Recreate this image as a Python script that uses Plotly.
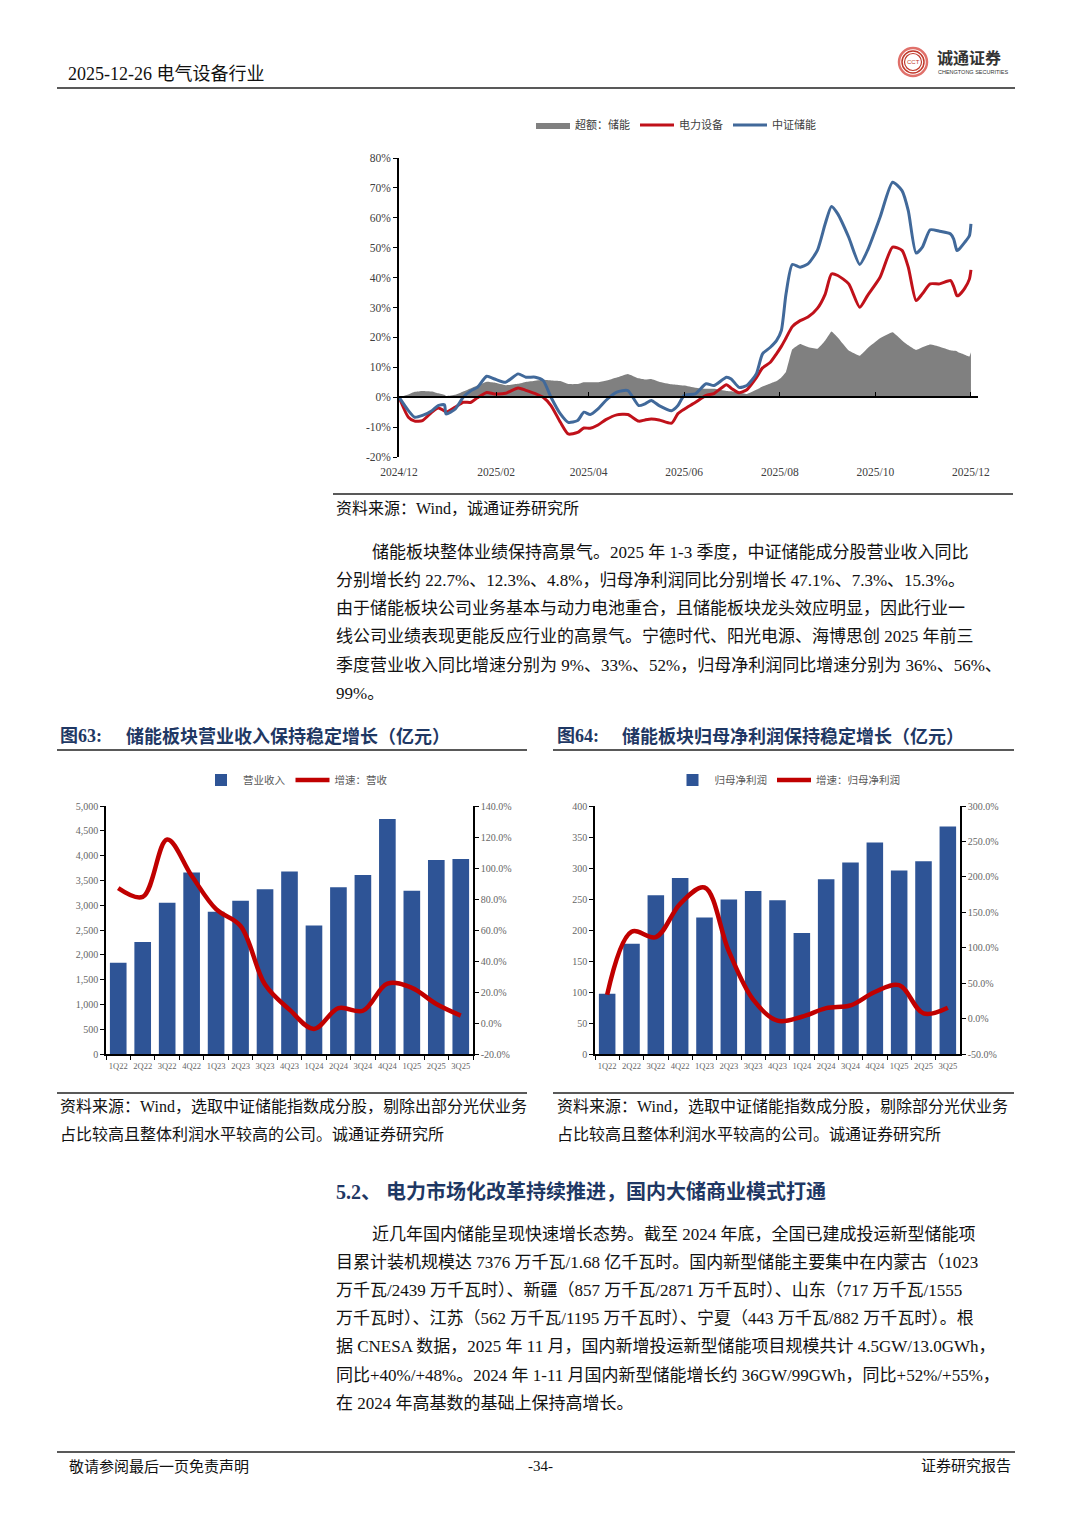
import plotly.graph_objects as go

W, H = 1080, 1527


def X(px):
    return px / W


def Y(py):
    return 1 - py / H


# ---------------- data: top chart (cumulative return, %) ----------------
DATES = ["2024-12-25", "2024-12-31", "2025-01-04", "2025-01-09", "2025-01-15", "2025-01-19", "2025-01-23",
         "2025-01-24", "2025-01-30", "2025-02-04", "2025-02-09", "2025-02-13", "2025-02-19", "2025-02-24",
         "2025-03-03", "2025-03-11", "2025-03-16", "2025-03-22", "2025-03-27", "2025-04-01", "2025-04-07",
         "2025-04-12", "2025-04-18", "2025-04-22", "2025-04-26", "2025-05-01", "2025-05-06", "2025-05-13",
         "2025-05-20", "2025-05-27", "2025-05-31", "2025-06-04", "2025-06-09", "2025-06-17", "2025-06-21",
         "2025-06-25", "2025-07-02", "2025-07-09", "2025-07-14", "2025-07-22", "2025-07-25", "2025-07-30",
         "2025-08-04", "2025-08-10", "2025-08-14", "2025-08-19", "2025-08-23", "2025-08-26", "2025-08-29",
         "2025-09-02", "2025-09-07", "2025-09-12", "2025-09-18", "2025-09-23", "2025-09-27", "2025-10-01",
         "2025-10-08", "2025-10-15", "2025-10-20", "2025-10-28", "2025-11-05", "2025-11-11", "2025-11-15",
         "2025-11-20", "2025-11-24", "2025-11-29", "2025-12-05", "2025-12-12", "2025-12-14", "2025-12-16",
         "2025-12-17", "2025-12-21", "2025-12-24", "2025-12-25"]

EXCESS = [0, 0.9, 1.8, 2.1, 1.9, 1.3, 0.8, 0.4, 0.8, 1.9,
          3.0, 3.9, 5.2, 4.9, 4.0, 4.5, 5.1, 5.5, 5.8, 5.6,
          5.4, 4.4, 4.4, 5.0, 5.0, 5.0, 5.5, 6.6, 7.8, 6.3,
          5.9, 6.1, 5.2, 4.3, 4.1, 3.9, 3.2, 2.8, 2.8, 2.1,
          2.0, 1.6, 1.1, 2.5, 3.6, 4.6, 5.4, 6.6, 8.5, 16.0,
          17.8, 16.8, 16.2, 19.0, 22.0, 20.0, 15.6, 13.9, 16.4, 19.7,
          21.7, 19.0, 17.4, 15.8, 16.7, 17.6, 16.9, 15.7, 15.5, 15.4,
          15.0, 14.2, 13.6, 15.0]

POWER_EQUIP = [0, -6.7, -8.0, -7.8, -5.0, -3.6, -4.6, -5.0, -3.3, -1.7,
               -1.7, -0.2, 1.6, 1.1, 1.3, 3.1, 2.3, 1.2, 0, -2.8,
               -8.4, -12.3, -11.8, -10.3, -10.4, -9.3, -7.5, -5.9, -5.8, -8.0,
               -7.6, -7.3, -7.6, -8.7, -5.5, -4.0, -1.8, 0.6, 1.2, 4.2,
               3.0, 1.5, 2.5, 6.5, 9.8, 11.7, 14.6, 17.0, 19.8, 23.6,
               25.6, 26.8, 29.7, 34.5, 41.2, 40.7, 37.9, 30.1, 34.0, 40.1,
               50.2, 49.1, 43.5, 32.3, 34.6, 37.9, 37.9, 39.0, 37.0, 34.0,
               34.0, 36.4, 39.5, 42.6]

CSI_STORAGE = [0, -4.5, -6.7, -6.1, -4.5, -2.8, -2.5, -5.6, -3.9, 0,
               2.2, 3.3, 7.0, 6.1, 5.0, 7.8, 6.7, 6.7, 5.6, 0,
               -5.6, -8.4, -7.8, -5.0, -5.8, -3.9, -1.1, 1.7, 2.2, -2.8,
               -2.2, -1.1, -2.8, -4.5, -2.8, 0.6, 1.1, 4.5, 3.9, 6.7,
               6.1, 3.3, 3.9, 7.8, 14.5, 16.7, 19.0, 22.3, 34.6, 44.4,
               43.5, 44.6, 49.1, 58.0, 63.8, 61.3, 53.5, 44.4, 49.1, 60.2,
               71.9, 69.1, 62.4, 48.2, 50.2, 56.0, 55.5, 54.6, 52.9, 49.1,
               49.3, 51.8, 54.0, 58.0]

TOP_TICK_DATES = ["2024-12-25", "2025-02-25", "2025-04-25", "2025-06-25",
                  "2025-08-25", "2025-10-25", "2025-12-25"]
TOP_TICK_TEXT = ["2024/12", "2025/02", "2025/04", "2025/06", "2025/08", "2025/10", "2025/12"]
TOP_X_RANGE = ["2024-12-25", "2025-12-29 12:00"]
TOP_Y_TICKS = [-20, -10, 0, 10, 20, 30, 40, 50, 60, 70, 80]
TOP_Y_TEXT = ["-20%", "-10%", "0%", "10%", "20%", "30%", "40%", "50%", "60%", "70%", "80%"]

# ---------------- data: bar charts ----------------
QUARTERS = ["1Q22", "2Q22", "3Q22", "4Q22", "1Q23", "2Q23", "3Q23", "4Q23",
            "1Q24", "2Q24", "3Q24", "4Q24", "1Q25", "2Q25", "3Q25"]
REVENUE = [1840, 2260, 3050, 3660, 2870, 3090, 3320, 3680, 2590, 3360, 3610, 4740, 3290, 3910, 3930]
REVENUE_YOY = [87.0, 81.4, 118.4, 95.0, 73.4, 62.6, 24.8, 8.6, -3.8, 9.6, 7.9, 25.4, 22.7, 12.3, 4.8]
NET_PROFIT = [97, 178, 256, 284, 220, 249, 263, 248, 195, 282, 309, 341, 296, 311, 367]
NET_PROFIT_YOY = [33.6, 122.6, 115.0, 162.0, 185.0, 95.0, 26.7, -3.0, 2.5, 14.8, 18.6, 37.5, 47.1, 7.3, 15.3]

REV_YOY_TICKS = [-20, 0, 20, 40, 60, 80, 100, 120, 140]
REV_YOY_TEXT = ["-20.0%", "0.0%", "20.0%", "40.0%", "60.0%", "80.0%", "100.0%", "120.0%", "140.0%"]
NP_YOY_TICKS = [-50, 0, 50, 100, 150, 200, 250, 300]
NP_YOY_TEXT = ["-50.0%", "0.0%", "50.0%", "100.0%", "150.0%", "200.0%", "250.0%", "300.0%"]

# ---------------- styles ----------------
SERIF = "Liberation Serif, Noto Sans CJK SC, serif"
SANS = "Noto Sans CJK SC, Liberation Sans, sans-serif"
NAVY = "#1F3864"
BAR_BLUE = "#2E5496"
LINE_RED = "#C00000"
TOP_BLUE = "#41699A"
TOP_RED = "#C0111A"
GRAY = "#808080"

fig = go.Figure()

# ---- top chart ----
fig.add_trace(go.Scatter(x=DATES, y=EXCESS, name="超额：储能", mode="lines",
                         line=dict(width=0, color=GRAY, shape="spline", smoothing=0.3),
                         fill="tozeroy", fillcolor=GRAY, xaxis="x", yaxis="y", legend="legend"))
fig.add_trace(go.Scatter(x=DATES, y=POWER_EQUIP, name="电力设备", mode="lines",
                         line=dict(width=3, color=TOP_RED, shape="spline", smoothing=0.6),
                         xaxis="x", yaxis="y", legend="legend"))
fig.add_trace(go.Scatter(x=DATES, y=CSI_STORAGE, name="中证储能", mode="lines",
                         line=dict(width=3, color=TOP_BLUE, shape="spline", smoothing=0.6),
                         xaxis="x4", yaxis="y", legend="legend"))

# ---- chart 63 ----
fig.add_trace(go.Bar(x=QUARTERS, y=REVENUE, name="营业收入", marker_color=BAR_BLUE,
                     xaxis="x2", yaxis="y2", legend="legend2"))
fig.add_trace(go.Scatter(x=QUARTERS, y=REVENUE_YOY, name="增速：营收", mode="lines",
                         line=dict(width=4.5, color=LINE_RED, shape="spline", smoothing=1.0),
                         xaxis="x2", yaxis="y3", legend="legend2"))

# ---- chart 64 ----
fig.add_trace(go.Bar(x=QUARTERS, y=NET_PROFIT, name="归母净利润", marker_color=BAR_BLUE,
                     xaxis="x3", yaxis="y4", legend="legend3"))
fig.add_trace(go.Scatter(x=QUARTERS, y=NET_PROFIT_YOY, name="增速：归母净利润", mode="lines",
                         line=dict(width=4.5, color=LINE_RED, shape="spline", smoothing=1.0),
                         xaxis="x3", yaxis="y5", legend="legend3"))

top_dom_x = [X(399), X(978)]
top_dom_y = [Y(457), Y(158)]
zero_pos = top_dom_y[0] + 0.2 * (top_dom_y[1] - top_dom_y[0])
bar_dom_y = [Y(1054), Y(806)]

tick_font_top = dict(family=SERIF, size=11.5, color="#404040")
tick_font_bar = dict(family=SERIF, size=10, color="#666666")
tick_font_cat = dict(family=SERIF, size=8.5, color="#666666")

common_y = dict(showgrid=False, zeroline=False, showline=True, linecolor="black", linewidth=1.5,
                ticks="outside", ticklen=4, tickwidth=1.2, tickcolor="black", automargin=False)

fig.update_layout(
    template="none",
    width=W, height=H, autosize=False,
    margin=dict(l=0, r=0, t=0, b=0, pad=0, autoexpand=False),
    paper_bgcolor="white", plot_bgcolor="white",
    bargap=0.32,
    xaxis=dict(domain=top_dom_x, anchor="y", type="date", range=TOP_X_RANGE,
               tickvals=TOP_TICK_DATES, ticktext=TOP_TICK_TEXT, ticks="", showline=False,
               showgrid=False, zeroline=False, tickfont=tick_font_top, ticklabelstandoff=6,
               tickangle=0, automargin=False),
    xaxis4=dict(overlaying="x", anchor="free", position=zero_pos, type="date", range=TOP_X_RANGE,
                tickvals=TOP_TICK_DATES, showticklabels=False, ticks="inside", ticklen=4,
                tickcolor="black", tickwidth=1.2, showline=True, linecolor="black", linewidth=2,
                showgrid=False, zeroline=False, automargin=False),
    yaxis=dict(domain=top_dom_y, anchor="x", range=[-20, 80], tickvals=TOP_Y_TICKS, ticktext=TOP_Y_TEXT,
               tickfont=tick_font_top, **common_y),
    xaxis2=dict(domain=[X(106), X(473)], anchor="y2", type="category", showgrid=False,
                showline=True, linecolor="black", linewidth=1.5, ticks="outside", ticklen=4,
                tickson="boundaries", tickcolor="black", tickfont=tick_font_cat, tickangle=0,
                ticklabelstandoff=3, automargin=False),
    yaxis2=dict(domain=bar_dom_y, anchor="x2", range=[0, 5000], dtick=500, tickformat=",",
                tickfont=tick_font_bar, **common_y),
    yaxis3=dict(overlaying="y2", anchor="x2", side="right", range=[-20, 140],
                tickvals=REV_YOY_TICKS, ticktext=REV_YOY_TEXT, tickfont=tick_font_bar, **common_y),
    xaxis3=dict(domain=[X(595), X(960)], anchor="y4", type="category", showgrid=False,
                showline=True, linecolor="black", linewidth=1.5, ticks="outside", ticklen=4,
                tickson="boundaries", tickcolor="black", tickfont=tick_font_cat, tickangle=0,
                ticklabelstandoff=3, automargin=False),
    yaxis4=dict(domain=bar_dom_y, anchor="x3", range=[0, 400], dtick=50,
                tickfont=tick_font_bar, **common_y),
    yaxis5=dict(overlaying="y4", anchor="x3", side="right", range=[-50, 300],
                tickvals=NP_YOY_TICKS, ticktext=NP_YOY_TEXT, tickfont=tick_font_bar, **common_y),
    legend=dict(orientation="h", x=X(676), xanchor="center", y=Y(125), yanchor="middle",
                font=dict(family=SERIF, size=11, color="#404040"), itemwidth=34,
                bgcolor="rgba(0,0,0,0)", traceorder="normal"),
    legend2=dict(orientation="h", x=X(296), xanchor="center", y=Y(780), yanchor="middle",
                 font=dict(family=SANS, size=10.5, color="#595959"), itemwidth=34,
                 bgcolor="rgba(0,0,0,0)", traceorder="normal"),
    legend3=dict(orientation="h", x=X(788), xanchor="center", y=Y(780), yanchor="middle",
                 font=dict(family=SANS, size=10.5, color="#595959"), itemwidth=34,
                 bgcolor="rgba(0,0,0,0)", traceorder="normal"),
)

# ---------------- page text ----------------
annotations = []


def txt(px, py, s, size=17, color="#111111", bold=False, anchor="left", family=SERIF):
    annotations.append(dict(x=X(px), y=Y(py), xref="paper", yref="paper", text=(f"<b>{s}</b>" if bold else s),
                            showarrow=False, xanchor=anchor, yanchor="middle",
                            font=dict(family=family, size=size, color=color)))


# header
txt(66, 74, "2025-12-26 电气设备行业", size=18, color="#111111")
txt(935, 58, "诚通证券", size=16, color="#333333", bold=True)
txt(936, 72, "CHENGTONG SECURITIES", size=5.5, color="#333333", family="Liberation Sans")
txt(913, 62, "CCT", size=6, color="#C0392B", anchor="center", family="Liberation Sans")

# top chart source
txt(334, 509, "资料来源：Wind，诚通证券研究所", size=16)

P1 = [
    "储能板块整体业绩保持高景气。2025 年 1-3 季度，中证储能成分股营业收入同比",
    "分别增长约 22.7%、12.3%、4.8%，归母净利润同比分别增长 47.1%、7.3%、15.3%。",
    "由于储能板块公司业务基本与动力电池重合，且储能板块龙头效应明显，因此行业一",
    "线公司业绩表现更能反应行业的高景气。宁德时代、阳光电源、海博思创 2025 年前三",
    "季度营业收入同比增速分别为 9%、33%、52%，归母净利润同比增速分别为 36%、56%、",
    "99%。",
]
P1_Y = [552, 580, 608, 636, 665, 693]
for i, (line, yy) in enumerate(zip(P1, P1_Y)):
    txt(370 if i == 0 else 334, yy, line, size=17)

# chart titles
txt(58, 736, "图63:", size=18, color=NAVY, bold=True)
txt(124, 736, "储能板块营业收入保持稳定增长（亿元）", size=18, color=NAVY, bold=True)
txt(555, 736, "图64:", size=18, color=NAVY, bold=True)
txt(620, 736, "储能板块归母净利润保持稳定增长（亿元）", size=18, color=NAVY, bold=True)

# sources under bar charts
txt(58, 1106, "资料来源：Wind，选取中证储能指数成分股，剔除出部分光伏业务", size=16)
txt(58, 1134, "占比较高且整体利润水平较高的公司。诚通证券研究所", size=16)
txt(555, 1106, "资料来源：Wind，选取中证储能指数成分股，剔除部分光伏业务", size=16)
txt(555, 1134, "占比较高且整体利润水平较高的公司。诚通证券研究所", size=16)

# section heading
txt(334, 1191, "5.2、 电力市场化改革持续推进，国内大储商业模式打通", size=20, color=NAVY, bold=True)

P2 = [
    "近几年国内储能呈现快速增长态势。截至 2024 年底，全国已建成投运新型储能项",
    "目累计装机规模达 7376 万千瓦/1.68 亿千瓦时。国内新型储能主要集中在内蒙古（1023",
    "万千瓦/2439 万千瓦时）、新疆（857 万千瓦/2871 万千瓦时）、山东（717 万千瓦/1555",
    "万千瓦时）、江苏（562 万千瓦/1195 万千瓦时）、宁夏（443 万千瓦/882 万千瓦时）。根",
    "据 CNESA 数据，2025 年 11 月，国内新增投运新型储能项目规模共计 4.5GW/13.0GWh，",
    "同比+40%/+48%。2024 年 1-11 月国内新型储能增长约 36GW/99GWh，同比+52%/+55%，",
    "在 2024 年高基数的基础上保持高增长。",
]
P2_Y = [1234, 1262, 1290, 1318, 1346, 1375, 1403]
for i, (line, yy) in enumerate(zip(P2, P2_Y)):
    txt(370 if i == 0 else 334, yy, line, size=17)

# footer
txt(67, 1466, "敬请参阅最后一页免责声明", size=15)
txt(540, 1466, "-34-", size=15, anchor="center")
txt(1013, 1466, "证券研究报告", size=15, anchor="right")

fig.update_layout(annotations=annotations)

# ---------------- rules / decorations ----------------
shapes = []


def hline(x0, x1, yy, width=1.5, color="#222222"):
    shapes.append(dict(type="line", xref="paper", yref="paper", x0=X(x0), x1=X(x1), y0=Y(yy), y1=Y(yy),
                       line=dict(color=color, width=width)))


hline(57, 1015, 88, 1.5)
hline(333, 1013, 494, 1.5)
hline(57, 527, 750, 1.5)
hline(553, 1014, 750, 1.5)
hline(57, 527, 1093, 1.5)
hline(553, 1014, 1093, 1.5)
hline(57, 1015, 1452, 1.5)

# logo rings
for r, wdt, col in [(14, 2.5, "#E0706A"), (11, 1.5, "#C0392B"), (8.5, 1.2, "#C0392B")]:
    shapes.append(dict(type="circle", xref="paper", yref="paper",
                       x0=X(913 - r), x1=X(913 + r), y0=Y(62 + r), y1=Y(62 - r),
                       line=dict(color=col, width=wdt), fillcolor="rgba(0,0,0,0)"))

fig.update_layout(shapes=shapes)

fig.write_html("out.html", config={"responsive": False, "displayModeBar": False},
               post_script="document.body.style.margin='0';document.body.style.padding='0';"
                           "document.body.style.overflow='hidden';")
